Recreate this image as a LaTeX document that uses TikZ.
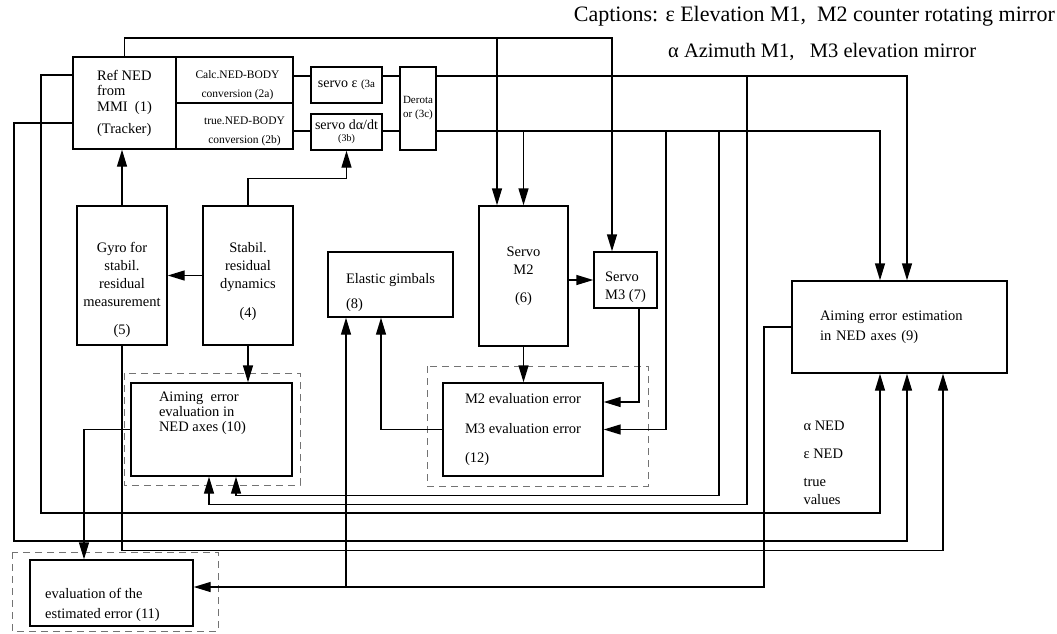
\documentclass[tikz,border=0pt]{standalone}
\usepackage{fontspec}
\setmainfont{Liberation Serif}
\usetikzlibrary{arrows.meta,calc,positioning}

\begin{document}
\begin{tikzpicture}[x=1pt,y=-1pt,>={Triangle[length=17pt,width=10pt]},
  blk/.style={draw,line width=1.4pt,inner sep=0pt,align=center,
    font=\fontsize{14.5}{18}\selectfont},
  lbl/.style={align=left,font=\fontsize{14.5}{18}\selectfont},
  sml/.style={align=center,font=\fontsize{11.5}{19}\selectfont},
  wire/.style={line width=1.4pt},
  dashbox/.style={draw=black!55,line width=1pt,dash pattern=on 7pt off 5pt},
  captxt/.style={inner sep=0pt,font=\fontsize{20.5}{22}\selectfont}]
  \useasboundingbox (0,0) rectangle (1057,633);

  % captions
  \node[captxt,anchor=base east,font=\fontsize{22}{24}\selectfont] (cap1) at (1055,21)
    {Captions: ε Elevation M1,~~M2 counter rotating mirror};
  \node[captxt,anchor=base west] (cap2) at (668,57) {α Azimuth M1,~~~M3 elevation mirror};

  % dashed groups
  \draw[dashbox] (124,373) rectangle (300,485);
  \draw[dashbox] (427,366) rectangle (648,486);
  \draw[dashbox] (12,552) rectangle (218,631);

  % blocks
  \node[blk,align=left,minimum width=103pt,minimum height=92pt] (ref) at (124.5,103)
    {Ref NED\\[-2.5pt]from\\[-2.5pt]MMI~~(1)\\[4pt](Tracker)};
  \node[blk,minimum width=117pt,minimum height=46pt,
    label={[sml,yshift=-5pt,xshift=3pt]center:{Calc.NED-BODY\\conversion (2a)}}] (c2a) at (234.5,80) {};
  \node[blk,minimum width=117pt,minimum height=46pt,
    label={[sml,yshift=-5pt,xshift=10pt]center:{true.NED-BODY\\conversion (2b)}}] (c2b) at (234.5,126) {};
  \node[blk,minimum width=71pt,minimum height=36pt,font=\fontsize{14}{16}\selectfont] (s3a) at (346.5,85)
    {servo ε {\fontsize{11}{12}\selectfont(3a}};
  \node[blk,minimum width=71pt,minimum height=36pt,font=\fontsize{14}{16}\selectfont] (s3b) at (346.5,132)
    {servo dα/dt\\[-4pt]{\fontsize{10}{12}\selectfont(3b)}};
  \node[blk,minimum width=36pt,minimum height=83pt,font=\fontsize{11}{14}\selectfont] (s3c) at (418,108.5)
    {Derota\\or (3c)};

  \node[blk,minimum width=90pt,minimum height=139pt,
    label={[lbl,align=center,yshift=-14pt]center:{Gyro for\\stabil.\\residual\\measurement\\[10pt](5)}}] (gyro) at (122,275.5) {};
  \node[blk,minimum width=90pt,minimum height=139pt,
    label={[lbl,align=center,yshift=-6pt]center:{Stabil.\\residual\\dynamics\\[11pt](4)}}] (stab) at (248,275.5) {};
  \node[blk,minimum width=125pt,minimum height=65pt,
    label={[lbl,yshift=-8pt]center:{Elastic gimbals\\[7pt](8)}}] (elas) at (390.5,284.5) {};
  \node[blk,minimum width=89pt,minimum height=140pt] (m2) at (523.5,276) {Servo\\M2\\[10pt](6)};
  \node[blk,minimum width=63pt,minimum height=56pt,
    label={[lbl,yshift=-7pt]center:{Servo\\M3 (7)}}] (m3) at (625.5,280) {};
  \node[blk,align=left,minimum width=215pt,minimum height=92pt,text width=159pt] (ae9) at (899.5,327)
    {Aiming error estimation\\[2pt]in NED axes (9)};

  \node[blk,minimum width=161pt,minimum height=93pt,
    label={[lbl,xshift=-9pt,yshift=16pt]center:{Aiming~~error\\[-3pt]evaluation in\\[-3pt]NED axes (10)}}] (ev10) at (211.5,429.5) {};
  \node[blk,align=left,minimum width=160pt,minimum height=93pt] (ev12) at (523,429.5)
    {M2 evaluation error\\[12pt]M3 evaluation error\\[11pt](12)};
  \node[blk,minimum width=163pt,minimum height=66pt,
    label={[lbl,xshift=-9pt,yshift=-12pt]center:{evaluation of the\\[2pt]estimated error (11)}}] (ev11) at (111.5,593) {};

  \node[lbl,anchor=west] (nedval) at (800,463) {α NED\\[10pt]ε NED\\[10pt]true\\values};

  % bus points
  \coordinate (tA) at (497,38);
  \coordinate (tB) at (612,38);
  \coordinate (uA) at (747,76);
  \coordinate (uB) at (907,76);
  \coordinate (lB) at (666,131);
  \coordinate (lC) at (719,131);
  \coordinate (lD) at (880,131);
  \coordinate (eA) at (346,587);
  \coordinate (eB) at (764,587);
  \coordinate (wL) at (14,541);
  \coordinate (wM) at (41,513);

  % top feed
  \draw[wire,->] (ref.north) |- (tB) -- (tB |- m3.north);
  \draw[wire,->] (tA) -- (tA |- m2.north);

  % conversion chain
  \draw[wire] (c2a.east |- uA) -- (s3a.west |- uA);
  \draw[wire] (s3a.east |- uA) -- (s3c.west |- uA);
  \draw[wire] (c2b.east |- lD) -- (s3b.west |- lD);
  \draw[wire] (s3b.east |- lD) -- (s3c.west |- lD);

  % upper bus
  \draw[wire,->] (s3c.east |- uA) -| (uB |- ae9.north);
  \draw[wire,->] (uA) |- ($(ev10.south)+(-2.5,28)$) -- ([xshift=-2.5pt]ev10.south);

  % lower bus
  \draw[wire,->] (s3c.east |- lD) -- (lD) -- (lD |- ae9.north);
  \draw[wire,->] (m2.north |- lD) -- (m2.north);
  \draw[wire,->] (lB) |- (ev12.east);
  \draw[wire,->] (lC) |- ($(ev10.south)+(24.5,19)$) -- ([xshift=24.5pt]ev10.south);

  % stabilisation loop
  \draw[wire,->] (stab.north) -- ++(0,-27) -| (s3b.south);
  \draw[wire,->] (gyro.north) -- (gyro.north |- ref.south);
  \draw[wire,->] (stab.west) -- (gyro.east);
  \draw[wire,->] (stab.south) -- (stab.south |- ev10.north);

  % mirrors
  \draw[wire,->] (m2.east |- m3.west) -- (m3.west);
  \draw[wire,->] (m2.south) -- (m2.south |- ev12.north);
  \draw[wire,->] ([xshift=13.5pt]m3.south) |- ($(ev12.east)+(0,-27.5)$);
  \draw[wire,->] (ev12.west) -| ([xshift=-9.5pt]elas.south);

  % estimation outputs
  \draw[wire,->] (ae9.west) -| (eB) -- (ev11.east |- eB);
  \draw[wire,->] (eA) -- (eA |- elas.south);
  \draw[wire,->] (ev10.west) -| ($(ev11.north)+(-27.5,0)$);

  % true values
  \draw[wire,->] (gyro.south) |- ($(ae9.south)+(43.5,177)$) -- ([xshift=43.5pt]ae9.south);
  \draw[wire,->] ($(ref.west)+(0,20)$) -| (wL) -| ([xshift=7.5pt]ae9.south);
  \draw[wire,->] ($(ref.west)+(0,-28)$) -| (wM) -| ([xshift=-19.5pt]ae9.south);
\end{tikzpicture}
\end{document}
